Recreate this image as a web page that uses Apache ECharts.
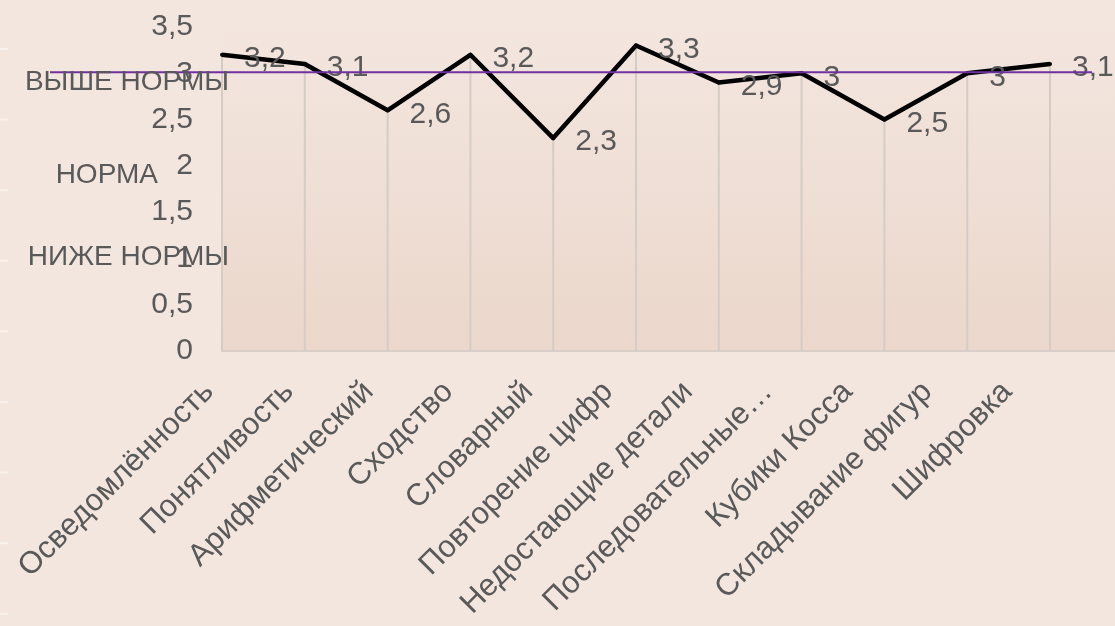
<!DOCTYPE html>
<html>
<head>
<meta charset="utf-8">
<script src="https://cdn.jsdelivr.net/npm/echarts@6/dist/echarts.min.js"></script>
<style>
  html, body { margin: 0; padding: 0; background: #F3E6DF; }
  #main { width: 1115px; height: 626px; }
</style>
</head>
<body>
<div id="main"></div>
<script>
  const categories = [
    'Осведомлённость', 'Понятливость', 'Арифметический', 'Сходство', 'Словарный',
    'Повторение цифр', 'Недостающие детали', 'Последовательные…', 'Кубики Косса',
    'Складывание фигур', 'Шифровка'
  ];
  const scores = [3.2, 3.1, 2.6, 3.2, 2.3, 3.3, 2.9, 3, 2.5, 3, 3.1];
  const normLevel = 3;
  const zoneLabels = ['ВЫШЕ НОРМЫ', 'НОРМА', 'НИЖЕ НОРМЫ'];

  const textColor = '#595959';
  const font = "'Liberation Sans', Arial, sans-serif";
  const numSize = 30;
  const catSize = 31;
  const zoneSize = 28;
  const comma = (v) => String(v).replace('.', ',');

  // points placed by category index so the plot can run past the last one
  const points = scores.map((v, i) => [i, v]);

  const chart = echarts.init(document.getElementById('main'));

  // left-edge slide decoration
  const ticks = [];
  for (let k = 0; k < 9; k++) {
    ticks.push({
      type: 'rect', left: 0, top: 48 + k * 70.6,
      shape: { width: 8, height: 2 },
      style: { fill: 'rgba(255,255,255,0.45)' }, silent: true
    });
  }

  const option = {
    backgroundColor: '#F3E6DF',
    textStyle: { fontFamily: font },
    grid: [
      {
        left: 222, top: 27, bottom: 275, right: 0,
        show: true,
        borderWidth: 0,
        backgroundColor: {
          type: 'linear', x: 0, y: 0, x2: 0, y2: 1,
          colorStops: [
            { offset: 0, color: '#F3E6DF' },
            { offset: 1, color: '#EBD7CB' }
          ]
        }
      },
      // label-only grid: category labels sit on a slightly tighter pitch
      { left: 209, top: 27, bottom: 275, width: 878 }
    ],
    xAxis: [
      {
        type: 'value',
        min: 0, max: 10.785,
        axisLine: { onZero: false, lineStyle: { color: '#D9D0CA', width: 2 } },
        axisTick: { show: false },
        axisLabel: { show: false },
        splitLine: { show: false }
      },
      {
        type: 'category',
        gridIndex: 1,
        data: categories.concat(['']),
        boundaryGap: false,
        axisLine: { show: false },
        axisTick: { show: false },
        axisLabel: {
          rotate: 45, interval: 0, margin: 36,
          color: textColor, fontSize: catSize, fontFamily: font
        },
        splitLine: { show: false }
      }
    ],
    yAxis: [
      {
        type: 'value',
        min: 0, max: 3.5, interval: 0.5,
        axisLine: { show: false },
        axisTick: { show: false },
        splitLine: { show: false },
        axisLabel: {
          margin: 29, color: textColor, fontSize: numSize, fontFamily: font,
          formatter: comma
        }
      },
      { type: 'value', gridIndex: 1, show: false }
    ],
    series: [
      {
        // drop lines
        type: 'bar',
        data: points,
        barWidth: 2,
        silent: true,
        itemStyle: { color: '#D6CCC6' },
        z: 1
      },
      {
        type: 'line',
        data: points,
        symbol: 'circle',
        symbolSize: 4,
        itemStyle: { color: '#000' },
        lineStyle: { color: '#000', width: 4.5, join: 'round' },
        label: {
          show: true, position: 'right', distance: 20, offset: [0, 4],
          color: textColor, fontSize: numSize, fontFamily: font,
          formatter: (p) => comma(p.value[1])
        },
        z: 3
      }
    ],
    graphic: ticks
  };

  chart.setOption(option);

  const yNorm = chart.convertToPixel({ yAxisIndex: 0 }, normLevel) - 1;
  const txt = (label, right, top) => ({
    type: 'text', right: 1115 - right, top: top, z: 11, silent: true,
    style: { text: label, fill: textColor, font: zoneSize + 'px ' + font }
  });
  chart.setOption({
    graphic: ticks.concat([
      {
        type: 'line', z: 10, silent: true,
        shape: { x1: 50, y1: yNorm, x2: 1092, y2: yNorm },
        style: { stroke: '#7030A0', lineWidth: 2 }
      },
      txt(zoneLabels[0], 229, 68),
      txt(zoneLabels[1], 158, 161),
      txt(zoneLabels[2], 229, 243)
    ])
  });
</script>
</body>
</html>
